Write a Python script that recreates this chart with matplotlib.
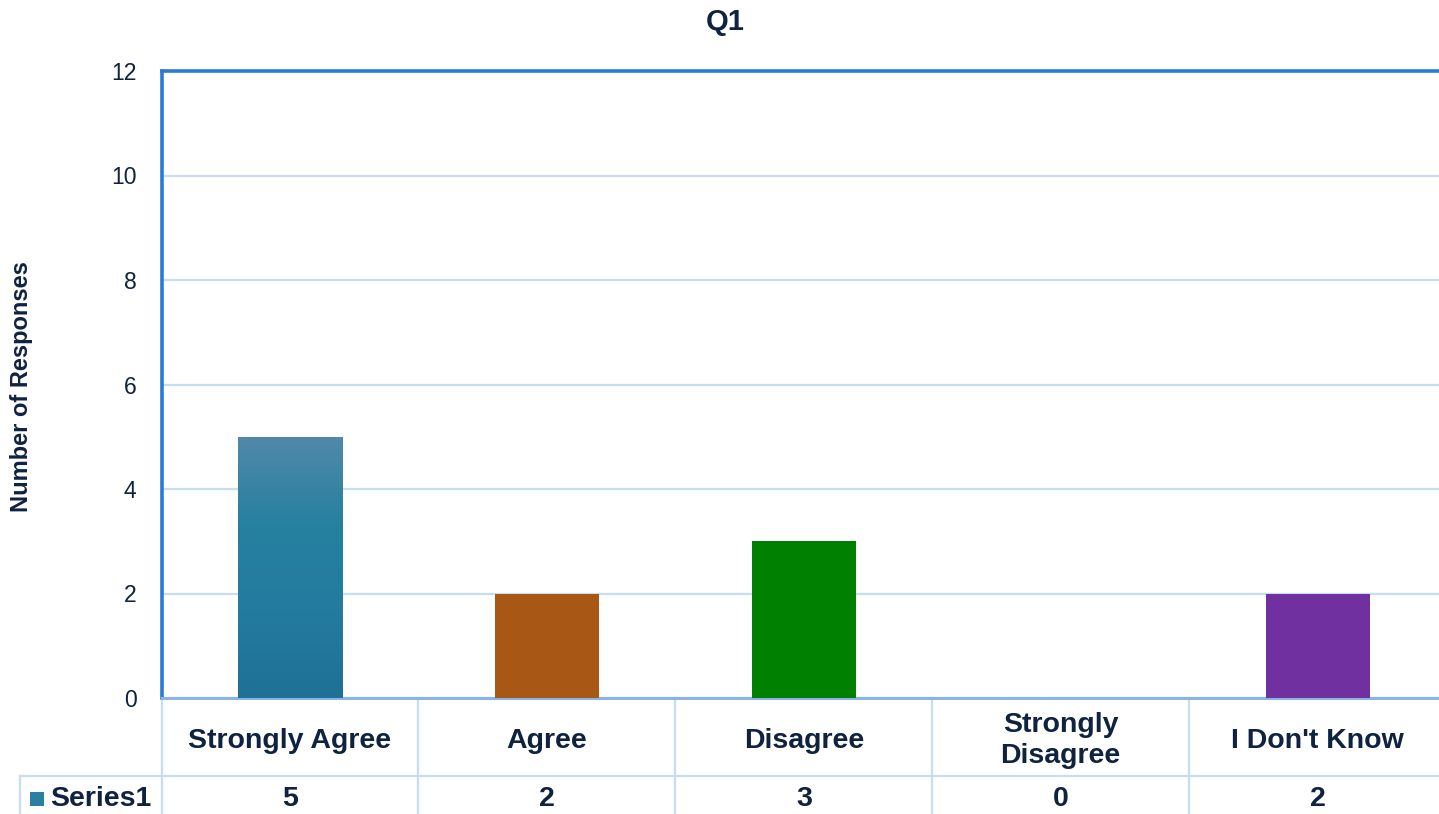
import numpy as np
import matplotlib.pyplot as plt
from matplotlib.patches import Rectangle
from matplotlib.colors import LinearSegmentedColormap

plt.rcParams['font.family'] = ['Liberation Sans', 'DejaVu Sans']

categories = ['Strongly Agree', 'Agree', 'Disagree', 'Strongly\nDisagree', "I Don't Know"]
responses = [5, 2, 3, 0, 2]
bar_colors = ['#26809f', '#a95715', '#008000', '#1f7096', '#7030a0']
series_name = 'Series1'

text_color = '#0f2340'
grid_color = '#c6ddf3'
frame_color = '#2a7bd8'

fig = plt.figure(figsize=(14.39, 8.14), dpi=100)
ax = fig.add_axes([161.6 / 1439, 1 - 698 / 814, (1446 - 161.6) / 1439, 627 / 814])

x = np.arange(len(categories))
bars = ax.bar(x, responses, width=0.405, color=bar_colors, zorder=3)

# vertical gradient on the first bar
grad = LinearSegmentedColormap.from_list('blue_grad', ['#1f7096', '#237ca0', '#26809f', '#5189aa'])
b0 = bars[0]
img = ax.imshow(np.linspace(0, 1, 256).reshape(-1, 1), cmap=grad, origin='lower', aspect='auto',
                extent=(b0.get_x(), b0.get_x() + b0.get_width(), 0, b0.get_height()), zorder=3)
img.set_clip_path(b0)
b0.set_facecolor('none')

ax.set_xlim(-0.5, len(categories) - 0.5)
ax.set_ylim(0, 12)
ax.set_yticks(range(0, 13, 2))
ax.set_xticks([])
ax.tick_params(axis='y', length=0, pad=18, labelsize=16.5, labelcolor=text_color)
ax.yaxis.grid(True, color=grid_color, lw=1.6, zorder=0)
ax.set_axisbelow(True)

for side in ['left', 'top']:
    ax.spines[side].set_color(frame_color)
    ax.spines[side].set_linewidth(2.6)
ax.spines['right'].set_visible(False)
ax.spines['bottom'].set_color('#8ab4e8')
ax.spines['bottom'].set_linewidth(2.2)

fig.text(725 / 1439, 1 - 22 / 814, 'Q1', fontsize=21, fontweight='bold', color=text_color,
         ha='center', va='center')
fig.text(22 / 1439, 1 - 387 / 814, 'Number of Responses', fontsize=17, fontweight='bold',
         color=text_color, rotation=90, ha='center', va='center')

# data table under the axis
tr = ax.get_xaxis_transform()
row_sep = -0.1244
row_bottom = -0.19
for i in range(len(categories) + 1):
    ax.plot([i - 0.5, i - 0.5], [0, row_bottom], transform=tr, color=grid_color, lw=1.6, clip_on=False)
legend_left = -1.051
ax.plot([legend_left, len(categories) - 0.5], [row_sep, row_sep], transform=tr,
        color=grid_color, lw=1.6, clip_on=False)
ax.plot([legend_left, legend_left], [row_sep, row_bottom], transform=tr,
        color=grid_color, lw=1.6, clip_on=False)

for xi, cat, val in zip(x, categories, responses):
    ax.text(xi, -0.068, cat, transform=tr, ha='center', va='center', fontsize=20.5,
            fontweight='bold', color=text_color, linespacing=1.25)
    ax.text(xi, -0.161, str(val), transform=tr, ha='center', va='center', fontsize=20.5,
            fontweight='bold', color=text_color)

sq_w = 14 / 256.9
sq_h = 14 / 627
sq_x = legend_left + 10 / 256.9
key = Rectangle((sq_x, -0.161 - sq_h / 2), sq_w, sq_h, transform=tr, clip_on=False,
                facecolor='#2a7fa3', edgecolor='none')
ax.add_patch(key)
ax.text(sq_x + sq_w + 6 / 256.9, -0.161, series_name, transform=tr, ha='left', va='center',
        fontsize=20.5, fontweight='bold', color=text_color)

fig.savefig('out.png', dpi=100)
